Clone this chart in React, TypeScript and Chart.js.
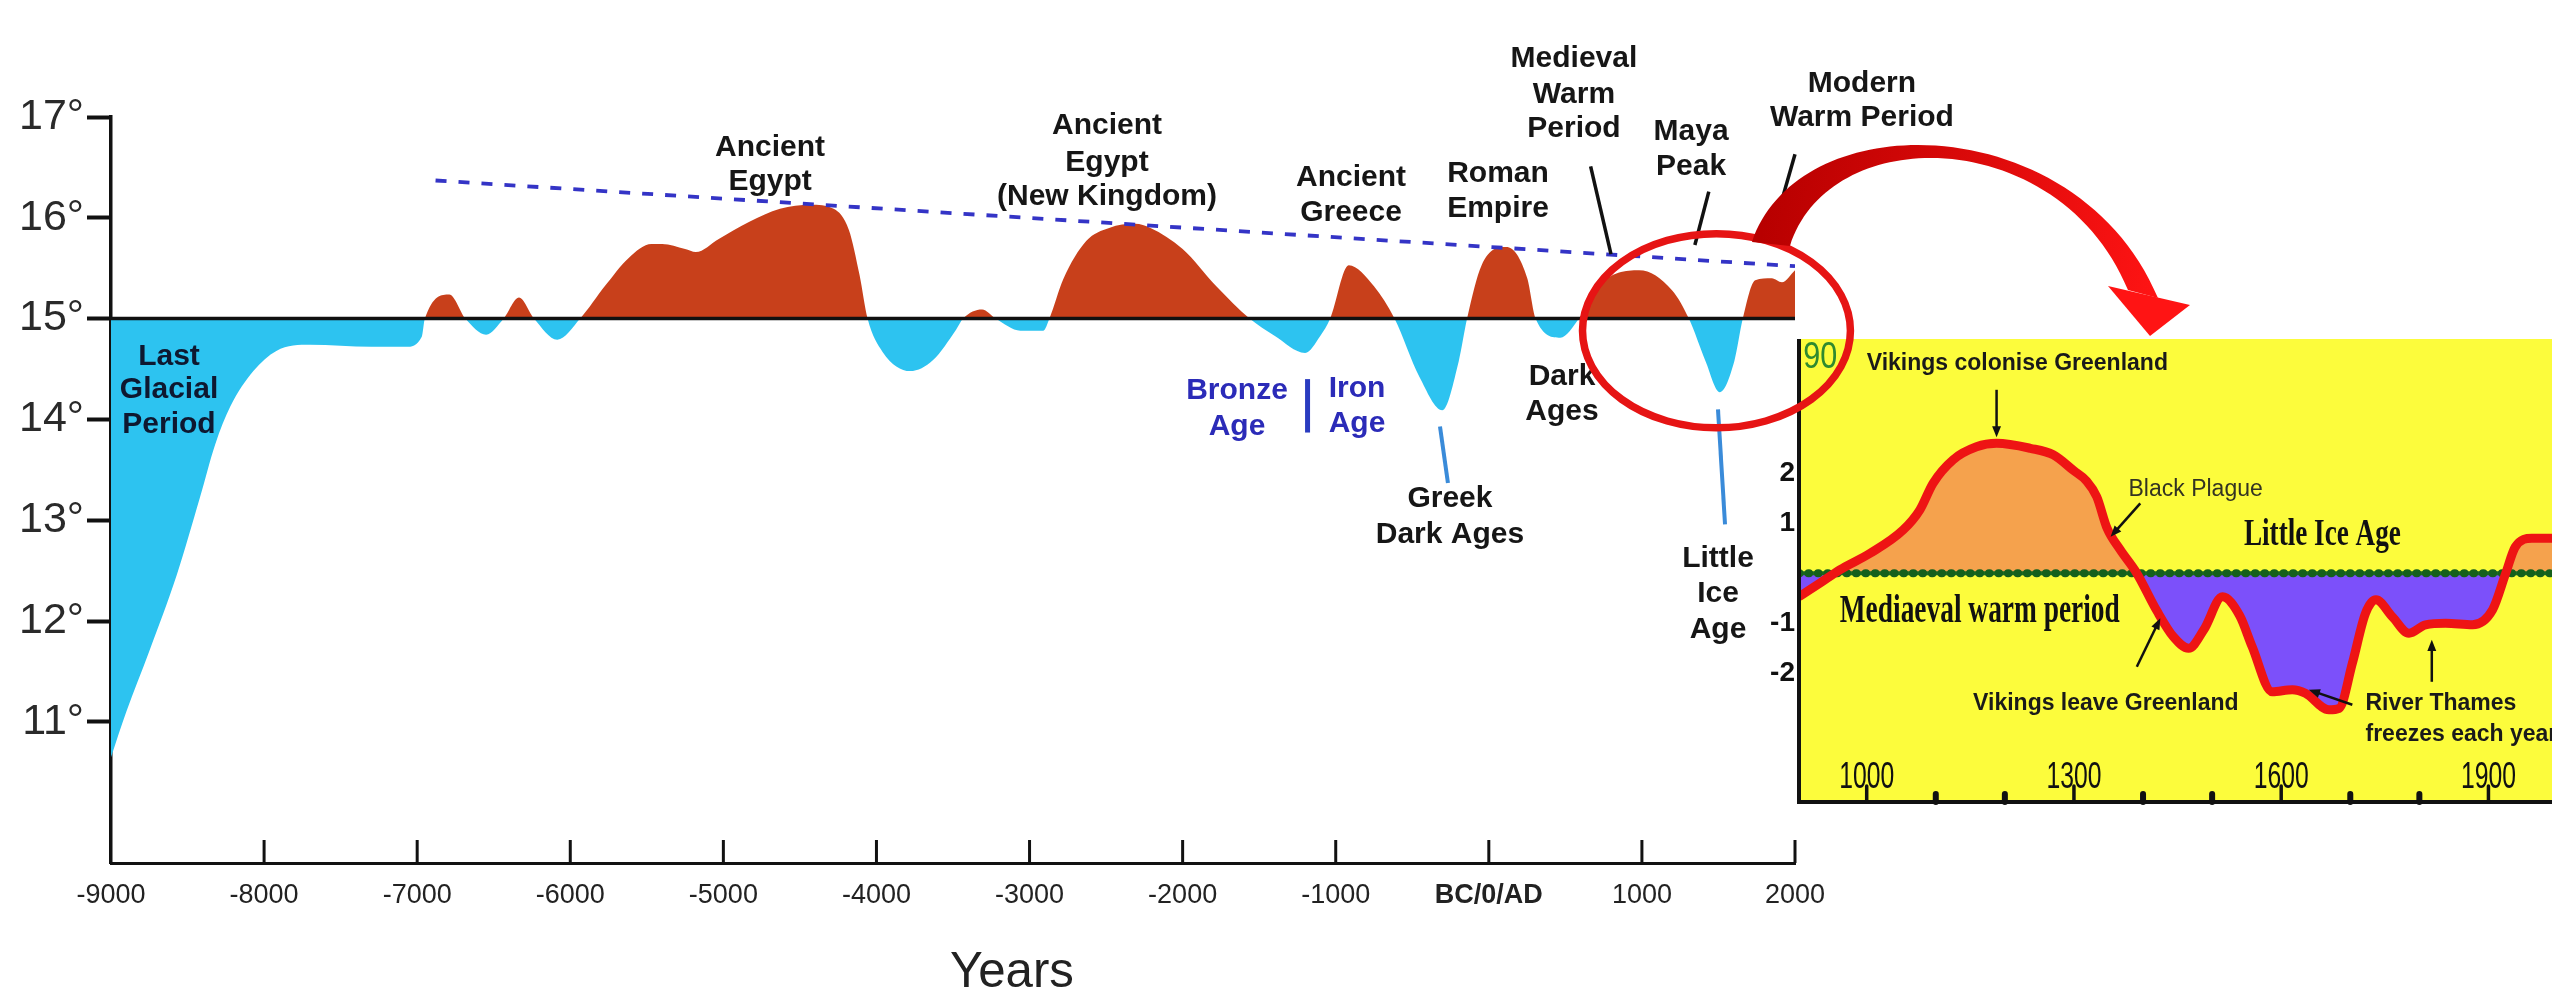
import React, { useEffect, useRef } from 'react';
import { Chart, registerables } from 'chart.js';

Chart.register(...registerables);

const W = 2552;
const H = 998;
const SANS = "'Liberation Sans', Arial, Helvetica, sans-serif";
const SERIF = "'Liberation Serif', 'Times New Roman', Times, serif";

// ---------------- Main chart data ----------------
const years = [
  -9000, -8900, -8750, -8570, -8420, -8320, -8220, -8070, -7920, -7700, -7300, -7070, -6970, -6950,
  -6790, -6685, -6550, -6435, -6335, -6237, -6085, -5935, -5770, -5620, -5470, -5400, -5250, -5180,
  -5030, -4830, -4630, -4430, -4280, -4180, -4110, -4058, -3960, -3780, -3630, -3480, -3434, -3310,
  -3221, -3060, -2910, -2870, -2780, -2630, -2480, -2310, -2210, -2000, -1780, -1563, -1400, -1200,
  -1100, -1036, -915, -750, -616, -453, -304, -196, -142, -47, 115, 251, 305, 467, 589, 711, 982,
  1198, 1307, 1415, 1509, 1604, 1659, 1740, 1848, 1915, 2000,
];
const temps = [
  10.65, 11.1, 11.7, 12.46, 13.22, 13.75, 14.13, 14.48, 14.68, 14.74, 14.72, 14.72, 14.82, 15.0,
  15.24, 15.0, 14.84, 15.0, 15.21, 15.0, 14.79, 15.0, 15.33, 15.6, 15.74, 15.74, 15.69, 15.66,
  15.79, 15.96, 16.09, 16.13, 16.09, 15.88, 15.43, 15.0, 14.67, 14.48, 14.59, 14.89, 15.0, 15.09,
  15.0, 14.88, 14.88, 15.0, 15.39, 15.77, 15.9, 15.94, 15.9, 15.69, 15.32, 15.0, 14.83, 14.66,
  14.83, 15.0, 15.53, 15.32, 15.0, 14.42, 14.09, 14.58, 15.0, 15.53, 15.71, 15.4, 15.0, 14.81, 15.0,
  15.32, 15.48, 15.28, 15.0, 14.58, 14.27, 14.58, 15.0, 15.38, 15.4, 15.36, 15.48,
];
const baselineTemp = 15;
const trendYears = [-6880, 2000];
const trendTemps = [16.37, 15.52];
const xTickYears = [-9000, -8000, -7000, -6000, -5000, -4000, -3000, -2000, -1000, 0, 1000, 2000];
const yTickTemps = [11, 12, 13, 14, 15, 16, 17];

// annotation texts (placed in data units: year, temperature per line)
const mainLabels = [
  { lines: ['Last', 'Glacial', 'Period'], year: -8621, temps: [14.62, 14.29, 13.95], color: '#0e1830' },
  { lines: ['Ancient', 'Egypt'], year: -4695, temps: [16.70, 16.36], color: '#161616' },
  { lines: ['Ancient', 'Egypt', '(New Kingdom)'], year: -2494, temps: [16.91, 16.55, 16.21], color: '#161616' },
  { lines: ['Ancient', 'Greece'], year: -900, temps: [16.40, 16.05], color: '#161616' },
  { lines: ['Roman', 'Empire'], year: 60, temps: [16.44, 16.09], color: '#161616' },
  { lines: ['Medieval', 'Warm', 'Period'], year: 556, temps: [17.58, 17.22, 16.88], color: '#161616' },
  { lines: ['Maya', 'Peak'], year: 1321, temps: [16.85, 16.51], color: '#161616' },
  { lines: ['Modern', 'Warm Period'], year: 2437, temps: [17.33, 16.99], color: '#161616' },
  { lines: ['Bronze', 'Age'], year: -1645, temps: [14.28, 13.93], color: '#2b2bb8' },
  { lines: ['Iron', 'Age'], year: -861, temps: [14.30, 13.96], color: '#2b2bb8' },
  { lines: ['Greek', 'Dark Ages'], year: -254, temps: [13.21, 12.86], color: '#161616' },
  { lines: ['Dark', 'Ages'], year: 478, temps: [14.42, 14.08], color: '#161616' },
  { lines: ['Little', 'Ice', 'Age'], year: 1497, temps: [12.62, 12.27, 11.91], color: '#161616' },
];
const mainConnectors = [
  { from: [-319, 13.93], to: [-267, 13.37], color: '#3a8bd9', width: 4 },
  { from: [1497, 14.10], to: [1543, 12.96], color: '#3a8bd9', width: 4 },
  { from: [665, 16.51], to: [798, 15.64], color: '#111111', width: 3.5 },
  { from: [1437, 16.26], to: [1346, 15.73], color: '#111111', width: 3.5 },
  { from: [2000, 16.63], to: [1915, 16.18], color: '#111111', width: 3.5 },
  { from: [-1184, 14.40], to: [-1184, 13.87], color: '#2a3cc0', width: 5 },
];

// ---------------- Inset chart data ----------------
const insetYears = [
  902, 932, 961, 1005, 1053, 1077, 1096, 1125, 1159, 1188, 1237, 1270, 1300, 1318, 1333, 1348, 1367,
  1391, 1420, 1444, 1466, 1488, 1515, 1540, 1558, 1587, 1616, 1635, 1669, 1684, 1703, 1722, 1737,
  1761, 1785, 1809, 1838, 1877, 1906, 1925, 1939, 1963, 1992,
];
const insetAnomaly = [
  -0.47, -0.2, 0.07, 0.4, 0.87, 1.27, 1.8, 2.27, 2.53, 2.6, 2.5, 2.37, 2.05, 1.85, 1.53, 0.9, 0.47,
  0.0, -0.75, -1.27, -1.5, -1.13, -0.47, -0.85, -1.47, -2.37, -2.33, -2.4, -2.73, -2.7, -1.8, -0.8, -0.53,
  -0.87, -1.2, -1.03, -1.0, -1.03, -0.73, 0.0, 0.53, 0.7, 0.7,
];
const insetMajorYears = [1000, 1300, 1600, 1900];
const insetMinorYears = [1100, 1200, 1400, 1500, 1700, 1800];
const insetYTickValues = [2, 1, -1, -2];
const insetLabels = [
  { text: 'Vikings colonise Greenland', year: 1000, val: 4.2, font: `bold 23px ${SANS}`, color: '#1a1a1a' },
  { text: 'Black Plague', year: 1379, val: 1.67, font: `23px ${SANS}`, color: '#333322' },
  { text: 'Little Ice Age', year: 1546, val: 0.77, font: `bold 38px ${SERIF}`, color: '#111111', maxW: 157 },
  { text: 'Mediaeval warm period', year: 961, val: -0.77, font: `bold 40px ${SERIF}`, color: '#111111', maxW: 280 },
  { text: 'Vikings leave Greenland', year: 1154, val: -2.6, font: `bold 23px ${SANS}`, color: '#1a1a1a' },
  { text: 'River Thames', year: 1722, val: -2.6, font: `bold 23px ${SANS}`, color: '#1a1a1a' },
  { text: 'freezes each year', year: 1722, val: -3.23, font: `bold 23px ${SANS}`, color: '#1a1a1a' },
];
const insetArrows = [
  { from: [1188, 3.67], to: [1188, 2.72] },
  { from: [1396, 1.4], to: [1353, 0.73] },
  { from: [1391, -1.87], to: [1425, -0.9] },
  { from: [1818, -2.17], to: [1818, -1.33] },
  { from: [1703, -2.63], to: [1640, -2.33] },
];

function drawArrow(ctx: CanvasRenderingContext2D, x1: number, y1: number, x2: number, y2: number, color: string, width: number, head: number) {
  ctx.strokeStyle = color;
  ctx.fillStyle = color;
  ctx.lineWidth = width;
  const a = Math.atan2(y2 - y1, x2 - x1);
  ctx.beginPath();
  ctx.moveTo(x1, y1);
  ctx.lineTo(x2 - Math.cos(a) * head * 0.6, y2 - Math.sin(a) * head * 0.6);
  ctx.stroke();
  ctx.beginPath();
  ctx.moveTo(x2, y2);
  ctx.lineTo(x2 - head * Math.cos(a - 0.38), y2 - head * Math.sin(a - 0.38));
  ctx.lineTo(x2 - head * Math.cos(a + 0.38), y2 - head * Math.sin(a + 0.38));
  ctx.closePath();
  ctx.fill();
}

export default function App() {
  const mainRef = useRef<HTMLCanvasElement>(null);
  const insetRef = useRef<HTMLCanvasElement>(null);

  useEffect(() => {
    const mainDecor = {
      id: 'mainDecor',
      afterDatasetsDraw(chart: any) {
        const { ctx, chartArea, scales } = chart;
        const y0 = scales.y.getPixelForValue(baselineTemp);
        ctx.save();
        ctx.strokeStyle = '#111111';
        ctx.lineWidth = 3.5;
        ctx.beginPath();
        ctx.moveTo(chartArea.left, y0);
        ctx.lineTo(chartArea.right, y0);
        ctx.stroke();
        ctx.restore();
      },
      afterDraw(chart: any) {
        const { ctx, chartArea, scales } = chart;
        const px = (v: number) => scales.x.getPixelForValue(v);
        const py = (v: number) => scales.y.getPixelForValue(v);
        ctx.save();
        // inward x ticks
        ctx.strokeStyle = '#111111';
        ctx.lineWidth = 3;
        xTickYears.forEach((v) => {
          if (v === xTickYears[0]) return;
          const x = px(v);
          ctx.beginPath();
          ctx.moveTo(x, chartArea.bottom);
          ctx.lineTo(x, chartArea.bottom - 23);
          ctx.stroke();
        });
        // connectors
        ctx.lineCap = 'butt';
        mainConnectors.forEach((c) => {
          ctx.strokeStyle = c.color;
          ctx.lineWidth = c.width;
          ctx.beginPath();
          ctx.moveTo(px(c.from[0]), py(c.from[1]));
          ctx.lineTo(px(c.to[0]), py(c.to[1]));
          ctx.stroke();
        });
        // labels
        ctx.textAlign = 'center';
        ctx.textBaseline = 'middle';
        ctx.font = `bold 30px ${SANS}`;
        mainLabels.forEach((l) => {
          ctx.fillStyle = l.color;
          l.lines.forEach((t, i) => ctx.fillText(t, px(l.year), py(l.temps[i])));
        });
        // axis title
        ctx.fillStyle = '#222222';
        ctx.font = `50px ${SANS}`;
        ctx.fillText('Years', px(-3115), 973, 124);
        ctx.restore();
      },
    };

    const main = new Chart(mainRef.current as HTMLCanvasElement, {
      type: 'line',
      data: {
        datasets: [
          {
            label: 'trend',
            data: trendYears.map((x, i) => ({ x, y: trendTemps[i] })),
            borderColor: '#3434c6',
            borderWidth: 3.8,
            borderDash: [11, 12],
            pointRadius: 0,
            fill: false,
            order: 1,
          },
          {
            label: 'temperature',
            data: years.map((x, i) => ({ x, y: temps[i] })),
            borderColor: 'rgba(0,0,0,0)',
            borderWidth: 0,
            pointRadius: 0,
            cubicInterpolationMode: 'monotone',
            fill: { target: { value: baselineTemp }, above: '#C8401B', below: '#2DC3F0' },
            order: 2,
          },
        ],
      } as any,
      options: {
        responsive: false,
        maintainAspectRatio: false,
        animation: false,
        devicePixelRatio: 1,
        layout: { padding: { left: 0, top: 117, right: 757, bottom: 0 } },
        plugins: { legend: { display: false }, tooltip: { enabled: false }, title: { display: false } },
        scales: {
          x: {
            type: 'linear',
            min: -9000,
            max: 2000,
            afterBuildTicks: (s: any) => { s.ticks = xTickYears.map((v) => ({ value: v })); },
            afterFit: (s: any) => { s.height = 135; },
            grid: { drawOnChartArea: false, drawTicks: false },
            border: { display: true, color: '#111111', width: 3 },
            ticks: {
              autoSkip: false,
              maxRotation: 0,
              padding: 16,
              color: '#222222',
              font: (c: any) => ({ family: SANS, size: 27, weight: c.tick && c.tick.value === 0 ? 'bold' : 'normal' }),
              callback: (v: any) => (Number(v) === 0 ? 'BC/0/AD' : String(v)),
            },
          },
          y: {
            type: 'linear',
            min: 9.6,
            max: 17,
            afterBuildTicks: (s: any) => { s.ticks = yTickTemps.map((v) => ({ value: v })); },
            afterFit: (s: any) => { s.width = 111; },
            grid: { drawOnChartArea: false, drawTicks: true, tickLength: 24, tickWidth: 4, tickColor: '#111111' },
            border: { display: true, color: '#111111', width: 3.5 },
            ticks: {
              padding: 3,
              color: '#2a2a2a',
              font: { family: SANS, size: 43 },
              callback: (v: any) => `${v}°`,
            },
          },
        },
      } as any,
      plugins: [mainDecor],
    });

    const insetDecor = {
      id: 'insetDecor',
      beforeDatasetsDraw(chart: any) {
        const { ctx, chartArea } = chart;
        ctx.save();
        ctx.fillStyle = '#FCFC3C';
        ctx.fillRect(chartArea.left, chartArea.top, chartArea.right - chartArea.left, chartArea.bottom - chartArea.top);
        ctx.restore();
      },
      afterDatasetsDraw(chart: any) {
        const { ctx, chartArea, scales } = chart;
        const px = (v: number) => scales.x.getPixelForValue(v);
        const py = (v: number) => scales.y.getPixelForValue(v);
        ctx.save();
        // panel frame
        ctx.strokeStyle = '#111111';
        ctx.lineWidth = 4;
        ctx.beginPath();
        ctx.moveTo(chartArea.left, chartArea.top);
        ctx.lineTo(chartArea.left, chartArea.bottom);
        ctx.lineTo(chartArea.right, chartArea.bottom);
        ctx.stroke();
        // minor ticks (dots) and major ticks
        ctx.lineCap = 'round';
        ctx.lineWidth = 6;
        insetMinorYears.forEach((v) => {
          ctx.beginPath();
          ctx.moveTo(px(v), chartArea.bottom);
          ctx.lineTo(px(v), chartArea.bottom - 8);
          ctx.stroke();
        });
        ctx.lineWidth = 3.5;
        insetMajorYears.forEach((v) => {
          ctx.beginPath();
          ctx.moveTo(px(v), chartArea.bottom);
          ctx.lineTo(px(v), chartArea.bottom - 16);
          ctx.stroke();
        });
        ctx.lineCap = 'butt';
        // x labels
        ctx.fillStyle = '#111111';
        ctx.textAlign = 'center';
        ctx.textBaseline = 'middle';
        ctx.font = `36px ${SANS}`;
        insetMajorYears.forEach((v) => ctx.fillText(String(v), px(v), py(-4.09), 55));
        // y labels outside the panel
        ctx.textAlign = 'right';
        ctx.font = `bold 28px ${SANS}`;
        insetYTickValues.forEach((v) => ctx.fillText(String(v), chartArea.left - 4, py(v)));
        // corner glyph
        ctx.textAlign = 'left';
        ctx.fillStyle = '#2f8a2f';
        ctx.font = `36px ${SANS}`;
        ctx.fillText('90', px(908), py(4.3), 34);
        // annotations
        insetLabels.forEach((l) => {
          ctx.fillStyle = l.color;
          ctx.font = l.font;
          if (l.maxW) ctx.fillText(l.text, px(l.year), py(l.val), l.maxW);
          else ctx.fillText(l.text, px(l.year), py(l.val));
        });
        insetArrows.forEach((a) => {
          drawArrow(ctx, px(a.from[0]), py(a.from[1]), px(a.to[0]), py(a.to[1]), '#111111', 2.5, 12);
        });
        ctx.restore();
      },
      afterDraw(chart: any) {
        const { ctx } = chart;
        const mx = main.scales.x;
        const my = main.scales.y;
        ctx.save();
        // highlight ellipse on the main chart
        const cx = mx.getPixelForValue(1487);
        const cy = my.getPixelForValue(14.88);
        const rx = mx.getPixelForValue(1487 + 875) - cx;
        const ry = my.getPixelForValue(14.88 - 0.963) - cy;
        ctx.strokeStyle = '#E61414';
        ctx.lineWidth = 7.5;
        ctx.beginPath();
        ctx.ellipse(cx, cy, rx, ry, 0, 0, Math.PI * 2);
        ctx.stroke();
        // curved pointer arrow
        const g = ctx.createLinearGradient(1760, 240, 2160, 300);
        g.addColorStop(0, '#B80000');
        g.addColorStop(1, '#FF1414');
        ctx.fillStyle = g;
        ctx.beginPath();
        ctx.moveTo(1752, 242);
        ctx.bezierCurveTo(1800, 100, 2080, 110, 2158, 298);
        ctx.lineTo(2128, 290);
        ctx.bezierCurveTo(2060, 125, 1830, 120, 1790, 246);
        ctx.closePath();
        ctx.fill();
        ctx.fillStyle = '#FF1414';
        ctx.beginPath();
        ctx.moveTo(2108, 286);
        ctx.lineTo(2190, 305);
        ctx.lineTo(2150, 336);
        ctx.closePath();
        ctx.fill();
        ctx.restore();
      },
    };

    const zeroLine = [{ x: insetYears[0], y: 0 }, { x: insetYears[insetYears.length - 1], y: 0 }];
    const insetPts = insetYears.map((x, i) => ({ x, y: insetAnomaly[i] }));

    const inset = new Chart(insetRef.current as HTMLCanvasElement, {
      type: 'line',
      data: {
        datasets: [
          {
            label: 'anomaly line',
            data: insetPts,
            borderColor: '#EE1414',
            borderWidth: 9,
            borderJoinStyle: 'round',
            pointRadius: 0,
            cubicInterpolationMode: 'monotone',
            fill: false,
            order: 0,
          },
          {
            label: 'zero dots',
            data: zeroLine,
            borderColor: '#15601c',
            borderWidth: 8,
            borderDash: [0.5, 9],
            borderCapStyle: 'round',
            pointRadius: 0,
            fill: false,
            order: 1,
          },
          {
            label: 'zero line',
            data: zeroLine,
            borderColor: '#1d6b22',
            borderWidth: 4,
            pointRadius: 0,
            fill: false,
            order: 2,
          },
          {
            label: 'anomaly fill',
            data: insetPts,
            borderColor: 'rgba(0,0,0,0)',
            borderWidth: 0,
            pointRadius: 0,
            cubicInterpolationMode: 'monotone',
            fill: { target: { value: 0 }, above: '#F5A24D', below: '#7C50FA' },
            order: 3,
          },
        ],
      } as any,
      options: {
        responsive: false,
        maintainAspectRatio: false,
        animation: false,
        devicePixelRatio: 1,
        layout: { padding: { left: 1799, top: 339, right: 0, bottom: 196 } },
        plugins: { legend: { display: false }, tooltip: { enabled: false }, title: { display: false } },
        scales: {
          x: { type: 'linear', display: false, min: 902, max: 1992 },
          y: { type: 'linear', display: false, min: -4.574, max: 4.686 },
        },
      } as any,
      plugins: [insetDecor],
    });

    return () => {
      inset.destroy();
      main.destroy();
    };
  }, []);

  return (
    <div style={{ position: 'fixed', left: 0, top: 0, width: W, height: H, background: '#ffffff', overflow: 'hidden' }}>
      <canvas ref={mainRef} width={W} height={H} style={{ position: 'absolute', left: 0, top: 0, width: W, height: H }} />
      <canvas ref={insetRef} width={W} height={H} style={{ position: 'absolute', left: 0, top: 0, width: W, height: H }} />
    </div>
  );
}
